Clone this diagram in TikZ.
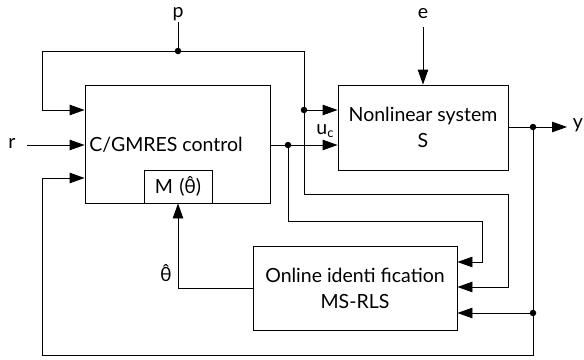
\documentclass[tikz,border=0pt]{standalone}
\usepackage{fontspec}
\setmainfont{Lato}
\usetikzlibrary{arrows.meta,calc}
\newcommand\thh{θ̂}
\begin{document}
\begin{tikzpicture}[x=1pt,y=-1pt, line width=0.9pt,
  blk/.style={draw, line width=0.9pt, inner sep=0pt, font=\fontsize{19.5}{26}\selectfont, align=center},
  arr/.style={-{Triangle[length=15pt,width=10.5pt]}},
  jdot/.style={circle, fill, inner sep=0pt, minimum size=6.5pt},
  lbl/.style={inner sep=1pt, font=\fontsize{19.5}{22}\selectfont}]
\useasboundingbox (0,0) rectangle (584,359);
% blocks
\node[blk, minimum width=185pt, minimum height=118pt] (ctrl) at (177.5,144) {};
\node[lbl] (ctrltxt) at (166,145) {C/GMRES control};
\node[blk, minimum width=68pt, minimum height=33pt] (M) at (178,186.5) {M\,\,(\thh)};
\node[blk, minimum width=170pt, minimum height=85pt] (sys) at (423,127.5) {Nonlinear system\\S};
\node[blk, minimum width=204pt, minimum height=84pt] (id) at (355,288) {Online identi fication\\MS-RLS};
% labels
\node[lbl] (p) at (178,14) {p};
\node[lbl] (e) at (423,14) {e};
\node[lbl] (r) at (12,143) {r};
\node[lbl] (y) at (578,125) {y};
\node[lbl] (uc) at (325,131) {u{\fontsize{13}{13}\selectfont\raisebox{-3pt}{c}}};
\node[lbl] (th) at (166,273) {\thh};
% junctions
\coordinate (jp) at (178,51);
\coordinate (jq) at (304,110);
\coordinate (jc) at (288,145);
\coordinate (jy) at (533,127);
\coordinate (jz) at (533,313);
\coordinate (yend) at (567,127);
\coordinate (pin) at (42,110);
\coordinate (fin) at (42,178);
\coordinate (rin) at (27,145);
\coordinate (ein) at (423,27);
% connectors
\draw (p.south) -- (jp);
\draw[arr] (jp) -| (pin) -- (ctrl.west |- pin);
\draw[arr] (jp) -| (jq) -- (sys.west |- jq);
\draw[arr] (jq) -- (304,194) -| (508,287) -- (id.east |- {(0,287)});
\draw[arr] (rin) -- (ctrl.west |- rin);
\draw[arr] (ein) -- (sys.north);
\draw (ctrl.east |- jc) -- (jc);
\draw[arr] (jc) -- (sys.west |- jc);
\draw[arr] (jc) -- (288,221) -| (482,262) -- (id.east |- {(0,262)});
\draw (sys.east |- jy) -- (jy);
\draw[arr] (jy) -- (yend);
\draw (jy) -- (jz);
\draw[arr] (jz) -- (id.east |- jz);
\draw[arr] (jz) -- (533,355) -| (fin) -- (ctrl.west |- fin);
\draw[arr] (id.west |- {(0,288)}) -| (M.south);
% dots
\foreach \j in {jp,jq,jc,jy,jz} \node[jdot] at (\j) {};
\end{tikzpicture}
\end{document}
